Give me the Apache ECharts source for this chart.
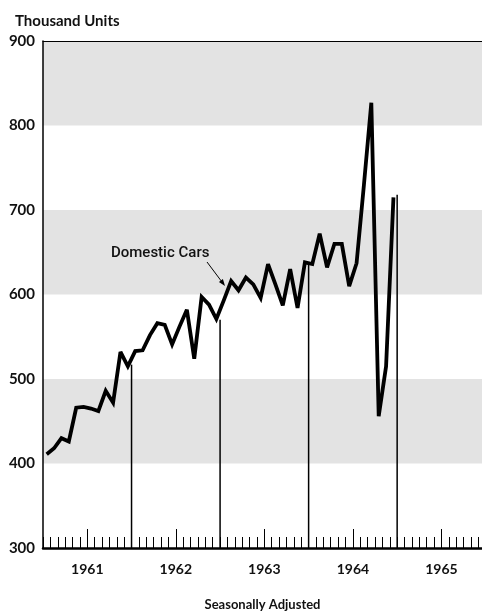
<!DOCTYPE html>
<html>
<head>
<meta charset="utf-8">
<script src="https://cdn.jsdelivr.net/npm/echarts@6/dist/echarts.min.js"></script>
<style>
  html, body { margin: 0; padding: 0; background: #fff; }
  #chart { width: 482px; height: 616px; }
</style>
</head>
<body>
<div id="chart"></div>
<script>
// monthly, Jan 1961 .. Dec 1964, thousand units, seasonally adjusted
const years = ['1961', '1962', '1963', '1964', '1965']
const domesticCars = [
  411, 418, 430, 426, 466, 467, 465, 462, 486, 472, 532, 515,
  533, 534, 552, 566, 564, 541, 562, 582, 524, 597, 588, 571,
  593, 616, 605, 620, 612, 596, 636, 612, 587, 630, 584, 638,
  636, 672, 632, 660, 660, 610, 637, 730, 827, 456, 515, 715
]
// height of the year divider lines at the end of 1961..1964
const yearEnds = [517, 570, 638, 718]
const yTicks = [300, 400, 500, 600, 700, 800, 900]

const font = 'Lato, "Open Sans", sans-serif'
const dom = document.getElementById('chart')
const myChart = echarts.init(dom, null, { renderer: 'canvas' })

const midYears = years.map((y, i) => i * 12 + 6)

const option = {
  animation: false,
  backgroundColor: '#fff',
  title: {
    text: 'Thousand Units',
    left: 10,
    top: 9,
    textStyle: { fontFamily: font, fontWeight: 'bold', fontSize: 15, color: '#111' }
  },
  grid: { left: 43, right: 0, top: 41, bottom: 59 },
  xAxis: [
    {
      type: 'value',
      min: 0,
      max: 59.5,
      interval: 1,
      name: 'Seasonally Adjusted',
      nameLocation: 'middle',
      nameGap: 50,
      nameTextStyle: { fontFamily: font, fontWeight: 'bold', fontSize: 13, color: '#111' },
      axisLine: { onZero: false, lineStyle: { color: '#000', width: 2.5 } },
      axisTick: { inside: true, length: 11, lineStyle: { color: '#000', width: 1 } },
      axisLabel: {
        customValues: midYears,
        formatter: v => years[(v - 6) / 12],
        margin: 14,
        fontFamily: font, fontWeight: 'bold', fontSize: 14, color: '#111'
      },
      splitLine: { show: false }
    },
    {
      type: 'value',
      min: 0,
      max: 59.5,
      position: 'bottom',
      axisLine: { show: false },
      axisTick: { inside: true, length: 19, customValues: midYears, lineStyle: { color: '#000', width: 1 } },
      axisLabel: { show: false },
      splitLine: { show: false }
    },
    {
      type: 'value',
      min: 0,
      max: 59.5,
      position: 'top',
      axisLine: { show: true, lineStyle: { color: '#000', width: 1 } },
      axisTick: { show: false },
      axisLabel: { show: false },
      splitLine: { show: false }
    }
  ],
  yAxis: {
    type: 'value',
    min: yTicks[0],
    max: yTicks[yTicks.length - 1],
    interval: 100,
    axisLine: { show: true, onZero: false, lineStyle: { color: '#000', width: 1.5 } },
    axisTick: { show: false },
    axisLabel: { margin: 8, fontFamily: font, fontWeight: 'bold', fontSize: 15, color: '#111' },
    splitLine: { show: false },
    splitArea: { show: true, areaStyle: { color: ['rgba(0,0,0,0)', '#e3e3e3'] } }
  },
  series: [
    {
      type: 'bar',
      barWidth: 1.5,
      itemStyle: { color: '#000' },
      data: yearEnds.map((v, i) => [(i + 1) * 12, v]),
      z: 2
    },
    {
      name: 'Domestic Cars',
      type: 'line',
      showSymbol: false,
      lineStyle: { color: '#000', width: 3.8, join: 'miter', miterLimit: 3 },
      data: domesticCars.map((v, i) => [i + 0.5, v]),
      z: 3
    }
  ],
  graphic: [
    {
      type: 'text',
      z: 100,
      x: 111,
      y: 246,
      style: {
        text: 'Domestic Cars',
        font: '500 15px Roboto, sans-serif',
        fill: '#111'
      }
    },
    {
      type: 'line',
      z: 100,
      shape: { x1: 207, y1: 262, x2: 222, y2: 282 },
      style: { stroke: '#000', lineWidth: 1 }
    },
    {
      type: 'polygon',
      z: 100,
      shape: { points: [[225, 286], [218.9, 281.9], [222.9, 278.9]] },
      style: { fill: '#000' }
    }
  ]
}

if (option && typeof option === 'object') {
  myChart.setOption(option, true)
}
</script>
</body>
</html>
